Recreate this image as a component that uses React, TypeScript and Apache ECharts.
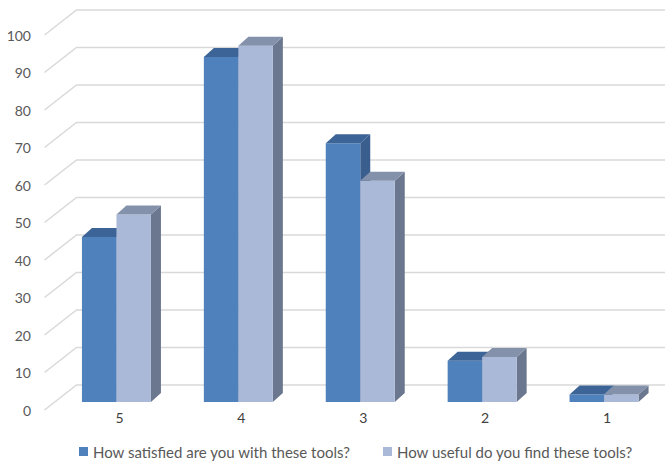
import React, { useEffect, useRef } from "react";
import * as echarts from "echarts";

const categories = ["5", "4", "3", "2", "1"];
const satisfied = [44, 92, 69, 11, 2];
const useful = [50, 95, 59, 12, 2];
const yTicks = [0, 10, 20, 30, 40, 50, 60, 70, 80, 90, 100];
const seriesNames = [
  "How satisfied are you with these tools?",
  "How useful do you find these tools?",
];

const BAR_W = 34.5;
const DEPTH = [10, -9];
const BACK = [21, -17];
const FRONT = [-11, 8];
const FONT = "Lato, 'Liberation Sans', sans-serif";

const BLUE = { front: "#4f81bd", top: "#3c6496", side: "#3a5f8f" };
const LIGHT = { front: "#aab9d8", top: "#8391ab", side: "#6b778e" };

function barRenderer(side: number, colors: { front: string; top: string; side: string }) {
  return (params: any, api: any) => {
    const cat = api.value(0);
    const val = api.value(1);
    const top = api.coord([cat, val]);
    const base = api.coord([cat, 0]);
    const x0 = side === 0 ? top[0] - BAR_W : top[0];
    const x1 = x0 + BAR_W;
    const yT = top[1];
    const yB = base[1];
    const [dx, dy] = DEPTH;
    return {
      type: "group",
      children: [
        {
          type: "polygon",
          shape: { points: [[x1, yB], [x1 + dx, yB + dy], [x1 + dx, yT + dy], [x1, yT]] },
          style: { fill: colors.side },
        },
        {
          type: "rect",
          shape: { x: x0, y: yT, width: BAR_W, height: yB - yT },
          style: { fill: colors.front },
        },
        {
          type: "polygon",
          shape: { points: [[x0, yT], [x0 + dx, yT + dy], [x1 + dx, yT + dy], [x1, yT]] },
          style: { fill: colors.top },
        },
      ],
    };
  };
}

function wallRenderer(params: any, api: any) {
  const v = api.value(1);
  const p = api.coord([0, v]);
  const xL = params.coordSys.x;
  const y = p[1];
  return {
    type: "polyline",
    silent: true,
    shape: {
      points: [
        [xL + FRONT[0], y + FRONT[1]],
        [xL + BACK[0], y + BACK[1]],
        [720, y + BACK[1]],
      ],
    },
    style: { stroke: "#d9d9d9", lineWidth: 1.5, fill: null },
  };
}

export default function App() {
  const ref = useRef<HTMLDivElement>(null);
  useEffect(() => {
    if (!ref.current) return;
    const chart = echarts.init(ref.current, undefined, { renderer: "svg" });
    chart.setOption({
      animation: false,
      backgroundColor: "#ffffff",
      grid: [
        { left: 55.5, top: 27, width: 611, height: 375 },
        { left: 44, top: 35, width: 100, height: 375 },
      ],
      xAxis: [
        {
          type: "category",
          gridIndex: 0,
          data: categories,
          axisLine: { show: false },
          axisTick: { show: false },
          axisLabel: {
            margin: 8,
            fontSize: 14,
            color: "#404040",
            fontFamily: FONT,
            padding: [0, 0, 0, 6],
          },
        },
        { type: "value", gridIndex: 1, show: false },
      ],
      yAxis: [
        { type: "value", gridIndex: 0, min: 0, max: 100, interval: 10, show: false },
        {
          type: "value",
          gridIndex: 1,
          min: 0,
          max: 100,
          interval: 10,
          axisLine: { show: false },
          axisTick: { show: false },
          splitLine: { show: false },
          axisLabel: { margin: 13, fontSize: 14, color: "#595959", fontFamily: FONT },
        },
      ],
      legend: {
        data: seriesNames,
        left: 79,
        top: 444,
        padding: 0,
        icon: "rect",
        itemWidth: 9,
        itemHeight: 9,
        itemGap: 32,
        textStyle: { fontSize: 15, color: "#595959", fontFamily: FONT },
      },
      series: [
        {
          type: "custom",
          name: "walls",
          xAxisIndex: 0,
          yAxisIndex: 0,
          z: 1,
          silent: true,
          renderItem: wallRenderer,
          data: yTicks.map((v) => [0, v]),
          encode: { x: 0, y: 1 },
        },
        {
          type: "custom",
          name: seriesNames[0],
          xAxisIndex: 0,
          yAxisIndex: 0,
          z: 2,
          itemStyle: { color: BLUE.front },
          renderItem: barRenderer(0, BLUE),
          data: satisfied.map((v, i) => [i, v]),
          encode: { x: 0, y: 1 },
        },
        {
          type: "custom",
          name: seriesNames[1],
          xAxisIndex: 0,
          yAxisIndex: 0,
          z: 3,
          itemStyle: { color: LIGHT.front },
          renderItem: barRenderer(1, LIGHT),
          data: useful.map((v, i) => [i, v]),
          encode: { x: 0, y: 1 },
        },
      ],
    });
    return () => chart.dispose();
  }, []);
  return (
    <div
      ref={ref}
      style={{ position: "fixed", left: 0, top: 0, width: 665, height: 463, background: "#fff" }}
    />
  );
}
